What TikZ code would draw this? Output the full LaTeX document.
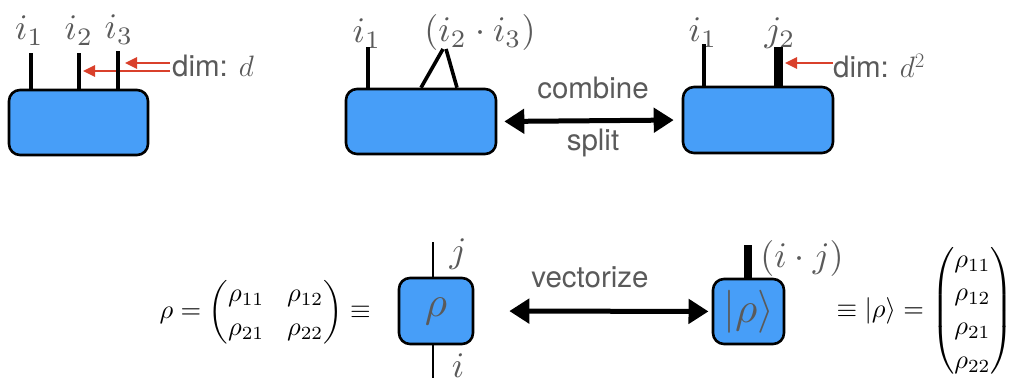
\RequirePackage{fix-cm}
\documentclass[tikz,border=0pt]{standalone}
\usepackage{amsmath}
\usepackage{graphicx}
\usepackage{fontspec}
\setsansfont{TeX Gyre Heros}
\usetikzlibrary{arrows.meta}

\definecolor{tnblue}{HTML}{479EF8}
\definecolor{labgray}{HTML}{5A5A5A}
\definecolor{dimred}{HTML}{D9402B}

% index labels and formulas are typeset at 10pt and enlarged
\newcommand\idxm[1]{\scalebox{3.6}{$#1$}}
\newcommand\inmath[1]{\scalebox{4.3}{$#1$}}
\newcommand\eqm[1]{\scalebox{2.65}{\setlength{\arraycolsep}{4.3pt}\renewcommand{\arraystretch}{1.06}$#1$}}

\tikzset{
  tensor/.style={draw=black, line width=2.6pt, fill=tnblue, rounded corners=11pt, inner sep=0pt},
  leg/.style={line width=3.6pt, line cap=butt},
  thinleg/.style={line width=2.6pt},
  fatleg/.style={line width=8.5pt},
  idx/.style={text=labgray, inner sep=0pt, font=\fontsize{10}{12}\selectfont},
  caption/.style={text=labgray, inner sep=0pt, font=\sffamily\fontsize{29.5}{32}\selectfont},
  dimarrow/.style={draw=dimred, line width=2.6pt, -{Triangle[length=12pt,width=11pt]}},
  bigarrow/.style={line width=5pt, {Triangle[length=20pt,width=24pt]}-{Triangle[length=20pt,width=24pt]}},
  formula/.style={inner sep=0pt, font=\fontsize{10}{12}\selectfont}
}

\begin{document}
\begin{tikzpicture}[x=1pt,y=-1pt]
\useasboundingbox (0,0) rectangle (1020,385);

% ---------- three-index tensor ----------
\coordinate (a1) at (31,53);
\coordinate (a2) at (79,53);
\coordinate (a3) at (118,51);
\node[idx, anchor=base] (la1) at (29.5,40) {\idxm{i_1}};
\node[idx, anchor=base] (la2) at (79,40) {\idxm{i_2}};
\node[idx, anchor=base] (la3) at (119,39) {\idxm{i_3}};
\node[caption, anchor=west] (dimd) at (172,66) {dim: $d$};
\coordinate (r1) at (170,63);
\coordinate (r2) at (170,71);
\draw[dimarrow] (r1) -- (125,63);
\draw[dimarrow] (r2) -- (83,71);
\node[tensor, minimum width=139, minimum height=65] (box1) at (78.5,122.5) {};
\draw[leg] (box1.north -| a1) -- (a1);
\draw[leg] (box1.north -| a2) -- (a2);
\draw[leg] (box1.north -| a3) -- (a3);

% ---------- grouped indices ----------
\coordinate (b1) at (368,47);
\coordinate (bl) at (443,49);
\coordinate (br) at (446,49);
\coordinate (fl) at (421,0);
\coordinate (fr) at (457,0);
\node[idx, anchor=base] (lb1) at (367,43) {\idxm{i_1}};
\node[idx, anchor=base] (lb23) at (480,42) {\idxm{(i_2\cdot i_3)}};
\node[tensor, minimum width=150, minimum height=65] (box2) at (421,121.5) {};
\draw[leg] (box2.north -| b1) -- (b1);
\draw[leg] (box2.north -| fl) -- (bl);
\draw[leg] (box2.north -| fr) -- (br);

% ---------- combined tensor ----------
\coordinate (c1) at (704,44);
\coordinate (c2) at (778.5,47);
\node[idx, anchor=base] (lc1) at (703,42) {\idxm{i_1}};
\node[idx, anchor=base] (lc2) at (780,42) {\idxm{j_2}};
\node[tensor, minimum width=150, minimum height=66] (box3) at (758,120) {};
\draw[leg] (box3.north -| c1) -- (c1);
\draw[fatleg] (box3.north -| c2) -- (c2);
\node[caption, anchor=west] (dimd2) at (833,66) {dim: $d^2$};
\draw[dimarrow] (dimd2.west |- 0,63) -- (785,63);

% combine / split
\draw[bigarrow, shorten <=7pt, shorten >=8pt] (box2.east) -- (box3.west);
\node[caption, anchor=base] (comb) at (593,99) {combine};
\node[caption, anchor=base] (spl) at (593,150) {split};

% ---------- density matrix ----------
\coordinate (rt) at (433,242);
\coordinate (rb) at (433,378);
\draw[thinleg] (rt) -- (rb);
\node[tensor, minimum width=74, minimum height=66, text=labgray, font=\fontsize{10}{12}\selectfont] (rho) at (436,311) {\inmath{\rho}};
\node[idx] (lj) at (458,254) {\idxm{j}};
\node[idx] (li) at (458,366) {\idxm{i}};
\node[formula, anchor=east] (mat) at (371,312)
  {\eqm{\rho=\begin{pmatrix}\rho_{11} & \rho_{12}\\ \rho_{21} & \rho_{22}\end{pmatrix}\equiv}};

% vectorize
\draw[bigarrow, shorten <=35pt, shorten >=40pt] (rho.east) -- (748.5,311.5);
\node[caption, anchor=base] (vec) at (590,287) {vectorize};

% ---------- vectorised state ----------
\coordinate (vt) at (748,245);
\node[tensor, minimum width=71, minimum height=65, text=labgray, font=\fontsize{10}{12}\selectfont] (vbox) at (748.5,311.5) {\inmath{|\rho\rangle}};
\draw[fatleg] (vbox.north -| vt) -- (vt);
\node[idx] (lij) at (802,258) {\idxm{(i\cdot j)}};
\node[formula, anchor=east] (col) at (1014,311)
  {\eqm{\equiv|\rho\rangle=\begin{pmatrix}\rho_{11}\\ \rho_{12}\\ \rho_{21}\\ \rho_{22}\end{pmatrix}}};
\end{tikzpicture}
\end{document}
